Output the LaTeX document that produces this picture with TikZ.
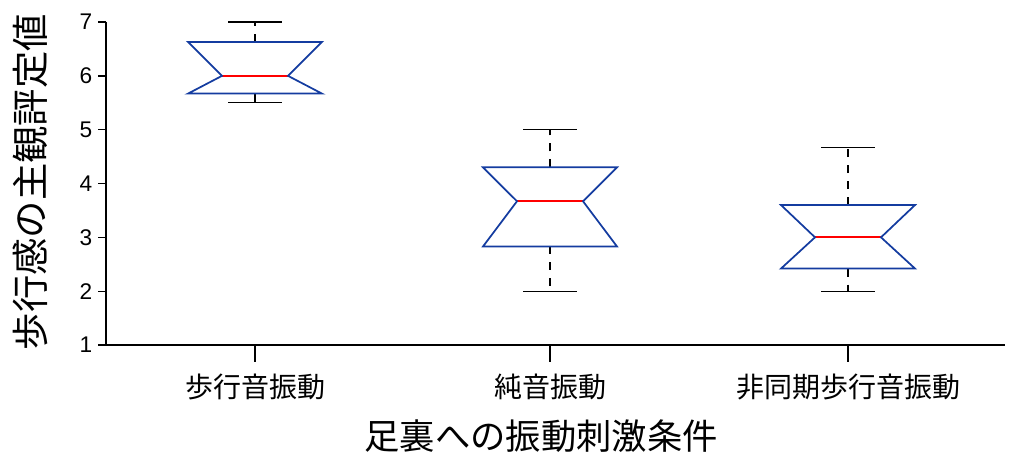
\documentclass[tikz,border=0pt]{standalone}
\usepackage{fontspec}
\setmainfont{Liberation Sans}
\newfontfamily\jp{Noto Sans CJK JP}
\begin{document}
\begin{tikzpicture}[x=0.75pt,y=-0.75pt,
  boxln/.style={draw={rgb,255:red,20;green,60;blue,160},line width=1.3pt},
  medln/.style={draw=red,line width=1.3pt},
  whisk/.style={draw=black,line width=1pt,dash pattern=on 6pt off 6pt},
  capln/.style={draw=black,line width=1pt},
  axln/.style={draw=black,line width=1pt},
  tick/.style={font=\fontsize{17}{19}\selectfont,anchor=east},
  cat/.style={font=\jp\fontsize{21}{23}\selectfont}]
\useasboundingbox (0,0) rectangle (1024,463);
\def\yv#1{345-53.83*(#1-1)}
% axes
\coordinate (o) at (106,345);
\coordinate (xe) at (1005,345);
\coordinate (yt) at (106,22);
\draw[axln] (yt) -- (o) -- (xe);
\foreach \v in {1,...,7}{
  \draw[axln] (106,{\yv{\v}}) -- (98,{\yv{\v}});
  \node[tick] (t\v) at (97,{\yv{\v}}) {\v};
}
\foreach \c/\n/\t in {255/a/歩行音振動,550/b/純音振動,848/c/非同期歩行音振動}{
  \draw[axln] (\c,345) -- (\c,362);
  \node[cat] (\n) at (\c,387) {\t};
}
\node[font=\jp\fontsize{26.5}{28}\selectfont] (xl) at (541,436) {足裏への振動刺激条件};
\node[font=\jp\fontsize{28}{30}\selectfont,rotate=90] (yl) at (30,182) {歩行感の主観評定値};
% boxes: center, lo whisker, q1, median, q3, hi whisker
\foreach \c/\lo/\qa/\md/\qb/\hi in {255/5.5/5.67/6/6.63/7, 550/2/2.83/3.67/4.3/5, 848/2/2.42/3/3.6/4.67}{
  \draw[whisk] (\c,{\yv{\qb}}) -- (\c,{\yv{\hi}});
  \draw[whisk] (\c,{\yv{\qa}}) -- (\c,{\yv{\lo}});
  \draw[capln] (\c-27,{\yv{\hi}}) -- (\c+27,{\yv{\hi}});
  \draw[capln] (\c-27,{\yv{\lo}}) -- (\c+27,{\yv{\lo}});
  \draw[medln] (\c-33,{\yv{\md}}) -- (\c+33,{\yv{\md}});
  \draw[boxln] (\c-67,{\yv{\qb}}) -- (\c+67,{\yv{\qb}}) -- (\c+33,{\yv{\md}})
     -- (\c+67,{\yv{\qa}}) -- (\c-67,{\yv{\qa}}) -- (\c-33,{\yv{\md}}) -- cycle;
}
\end{tikzpicture}
\end{document}
